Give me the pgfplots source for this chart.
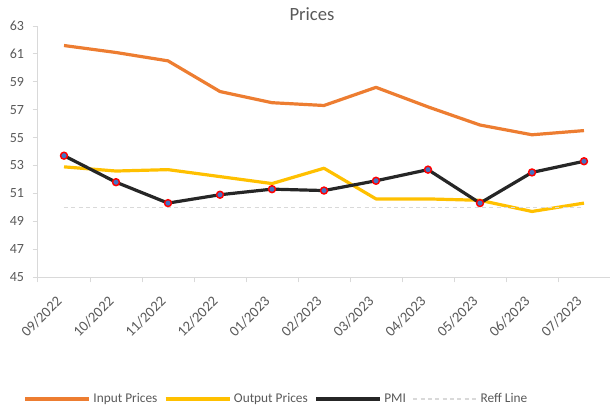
\documentclass[border=0pt]{standalone}
\usepackage{fontspec}
\setmainfont{Carlito}
\usepackage{pgfplots}
\pgfplotsset{compat=1.18}
\definecolor{inp}{HTML}{ED7D31}
\definecolor{outp}{HTML}{FFC000}
\definecolor{pmi}{HTML}{262626}
\definecolor{axc}{HTML}{D9D9D9}
\definecolor{txt}{HTML}{595959}
\definecolor{mblue}{HTML}{4472C4}
\begin{document}
\begin{tikzpicture}
\path[use as bounding box] (-28.5pt,-101.25pt) rectangle (429pt,207.75pt);
\begin{axis}[
  at={(0,0)}, anchor=south west,
  scale only axis,
  width=429pt, height=188.25pt,
  xmin=-0.5, xmax=10.5, ymin=45, ymax=63,
  ytick={45,47,...,63},
  xtick={-0.5,0.5,...,10.5},
  xticklabels={},
  extra x ticks={0,...,10},
  extra x tick labels={09/2022,10/2022,11/2022,12/2022,01/2023,02/2023,03/2023,04/2023,05/2023,06/2023,07/2023},
  extra x tick style={major tick length=0pt},
  major tick length=4pt,
  tick style={axc, line width=0.75pt},
  tick align=outside,
  axis x line*=bottom, axis y line*=left,
  axis line style={axc, line width=0.75pt, -},
  /pgf/number format/assume math mode=true,
  tick label style={font=\fontsize{10.5}{12}\selectfont, text=txt},
  xticklabel style={font=\fontsize{11}{12}\selectfont, xshift=-1pt, yshift=-14pt, rotate=45, anchor=east},
  yticklabel style={xshift=-3pt},
  title={Prices}, title style={font=\fontsize{14}{16}\selectfont, text=txt, at={(0.5,1)}, anchor=center, yshift=3pt, xshift=-9pt},
  legend style={at={(-14pt,-91.5pt)}, anchor=west, draw=none, fill=none,
    font=\fontsize{10}{12}\selectfont, text=txt, legend columns=4,
    /tikz/every even column/.append style={column sep=3pt}},
  legend image code/.code={\draw[#1] (0pt,0pt) -- (48pt,0pt);
     },
  clip=false,
]
\addplot[inp, line width=2.4pt, line join=round] coordinates {(0,61.6)(1,61.1)(2,60.5)(3,58.3)(4,57.5)(5,57.3)(6,58.6)(7,57.2)(8,55.9)(9,55.2)(10,55.5)};
\addlegendentry{Input Prices}
\addplot[outp, line width=2.4pt, line join=round] coordinates {(0,52.9)(1,52.6)(2,52.7)(3,52.2)(4,51.7)(5,52.8)(6,50.6)(7,50.6)(8,50.5)(9,49.7)(10,50.3)};
\addlegendentry{Output Prices}
\addplot[pmi, line width=2.4pt, line join=round, mark=*, mark size=2.6pt, mark options={draw=red, fill=mblue, line width=1.1pt}] coordinates {(0,53.7)(1,51.8)(2,50.3)(3,50.9)(4,51.3)(5,51.2)(6,51.9)(7,52.7)(8,50.3)(9,52.5)(10,53.3)};
\addlegendentry{PMI}
\addplot[axc, line width=1pt, dash pattern=on 3pt off 2.5pt] coordinates {(0,50)(10,50)};
\addlegendentry{Reff Line}
\end{axis}
\end{tikzpicture}
\end{document}
